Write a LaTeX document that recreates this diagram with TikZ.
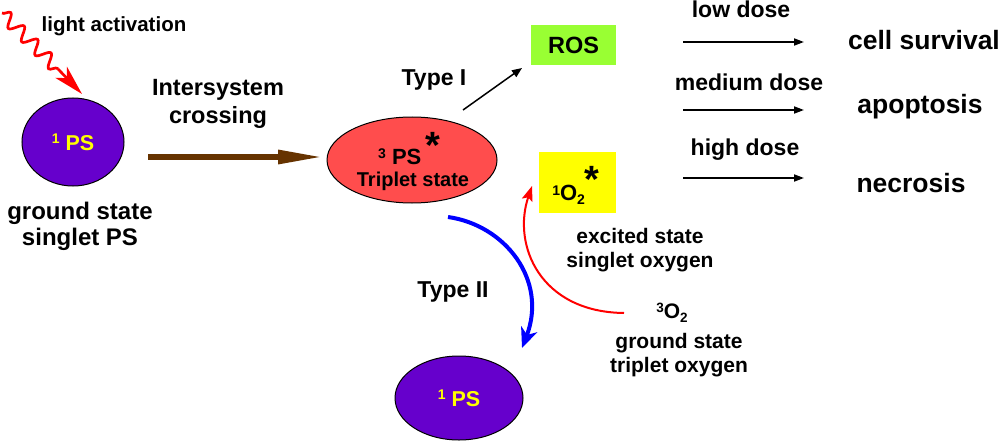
\documentclass[tikz,border=0pt]{standalone}
\usepackage{fontspec}
\setmainfont{Liberation Sans}
\usetikzlibrary{shapes.geometric,arrows.meta,decorations.pathmorphing}
\definecolor{pspurple}{HTML}{6600CC}
\definecolor{psred}{HTML}{FF4D4D}
\definecolor{psbrown}{HTML}{663300}
\definecolor{rosgreen}{HTML}{99FF33}
\definecolor{psyellow}{HTML}{FFFF00}
\newcommand{\fs}[1]{\fontsize{#1}{#1}\selectfont\bfseries}
\tikzset{
  txt/.style={inner sep=0pt, align=center, font=\fs{23}},
  psell/.style={ellipse, draw=black, line width=1pt, inner sep=0pt},
  dosearrow/.style={-{Triangle[length=10pt,width=7pt]}, line width=1.8pt, black},
}
\begin{document}
\begin{tikzpicture}[x=1pt,y=-1pt]
\useasboundingbox (0,0) rectangle (1000,441);
% ground-state PS
\node[psell, fill=pspurple, minimum width=102, minimum height=88] (ps1) at (73,142)
  {\color{psyellow}\fs{21.5}\raisebox{7pt}{\fontsize{14}{14}\selectfont 1} PS};
\node[txt, font=\fs{24}] (gs) at (80,226) {ground state\\[2pt]singlet PS};
\node[txt, font=\fs{20.5}] (light) at (114,26) {light activation};
\coordinate (lstart) at (2,13);
\coordinate (lmid) at (58,69);
\coordinate (lend) at (82,94);
\draw[red, line width=2.7pt, decorate, decoration={snake, amplitude=6.5pt, segment length=19pt}] (lstart) -- (lmid);
\draw[red, line width=2.7pt, -{Stealth[length=30pt,width=16pt,inset=8pt]}] (lmid) -- (lend);
% intersystem crossing
\node[txt, font=\fs{23.5}] (isc) at (218,104) {Intersystem\\[4pt]crossing};
\coordinate (iscs) at (148,157);
\coordinate (isce) at (324,157);
\draw[psbrown, line width=6pt, -{Triangle[length=46pt,width=13pt]}] (iscs) -- (isce);
% triplet
\node[psell, fill=psred, minimum width=170, minimum height=86] (ps3) at (412,160) {};
\node[txt, font=\fs{22}] (ps3t) at (409,149) {\raisebox{6pt}{\fontsize{14}{14}\selectfont 3} PS\,\raisebox{6pt}{\fontsize{38}{38}\selectfont *}};
\node[txt, font=\fs{20}] (ps3s) at (413,181) {Triplet state};
% type I
\node[txt] (t1) at (434,80) {Type I};
\node[fill=rosgreen, minimum width=85, minimum height=40, inner sep=0pt, font=\fs{23.5}] (ros) at (573.5,45) {ROS};
\coordinate (t1s) at (463,110);
\coordinate (t1e) at (522,68);
\draw[-{Triangle[length=10pt,width=8pt]}, line width=1.5pt] (t1s) -- (t1e);
% singlet oxygen
\node[fill=psyellow, minimum width=77, minimum height=61, inner sep=0pt] (o2s) at (577.5,182.5) {};
\node[txt, font=\fs{22}] (o2t) at (576,185) {\raisebox{5pt}{\fontsize{14}{14}\selectfont 1}O\raisebox{-4pt}{\fontsize{14}{14}\selectfont 2}\raisebox{8pt}{\fontsize{38}{38}\selectfont *}};
% dose arrows
\coordinate (d1s) at (683,42);  \coordinate (d1e) at (804,42);
\coordinate (d2s) at (683,110); \coordinate (d2e) at (804,110);
\coordinate (d3s) at (683,178); \coordinate (d3e) at (804,178);
\draw[dosearrow] (d1s) -- (d1e);
\draw[dosearrow] (d2s) -- (d2e);
\draw[dosearrow] (d3s) -- (d3e);
\node[txt] (low) at (741,9) {low dose};
\node[txt] (med) at (749,82) {medium dose};
\node[txt] (high) at (745,150) {high dose};
\node[txt, font=\fs{26.5}] (cs) at (924,40) {cell survival};
\node[txt, font=\fs{26.5}] (apo) at (920,107) {apoptosis};
\node[txt, font=\fs{26.5}] (nec) at (911,183) {necrosis};
% type II
\node[txt] (t2) at (453,292) {Type II};
\coordinate (bs) at (448,217);
\coordinate (be) at (522,348);
\draw[blue, line width=4pt, -{Stealth[length=20pt,width=17pt,inset=6pt]}] (bs) .. controls (505,225) and (548,280) .. (be);
\node[psell, fill=pspurple, minimum width=128, minimum height=84] (ps1b) at (459,398)
  {\color{psyellow}\fs{21.5}\raisebox{7pt}{\fontsize{14}{14}\selectfont 1} PS};
% oxygen
\coordinate (rs) at (624,313);
\coordinate (re) at (532,186);
\draw[red, line width=2pt, -{Stealth[length=15pt,width=11pt,inset=3pt]}] (rs) .. controls (540,312) and (512,245) .. (re);
\node[txt, font=\fs{21}] (exc) at (640,250) {excited state\\[3pt]singlet oxygen};
\node[txt, font=\fs{21}] (o3) at (672,313) {\raisebox{6pt}{\fontsize{13.5}{13.5}\selectfont 3}O\raisebox{-4pt}{\fontsize{13.5}{13.5}\selectfont 2}};
\node[txt, font=\fs{21}] (gso) at (679,355) {ground state\\[3pt]triplet oxygen};
\end{tikzpicture}
\end{document}
